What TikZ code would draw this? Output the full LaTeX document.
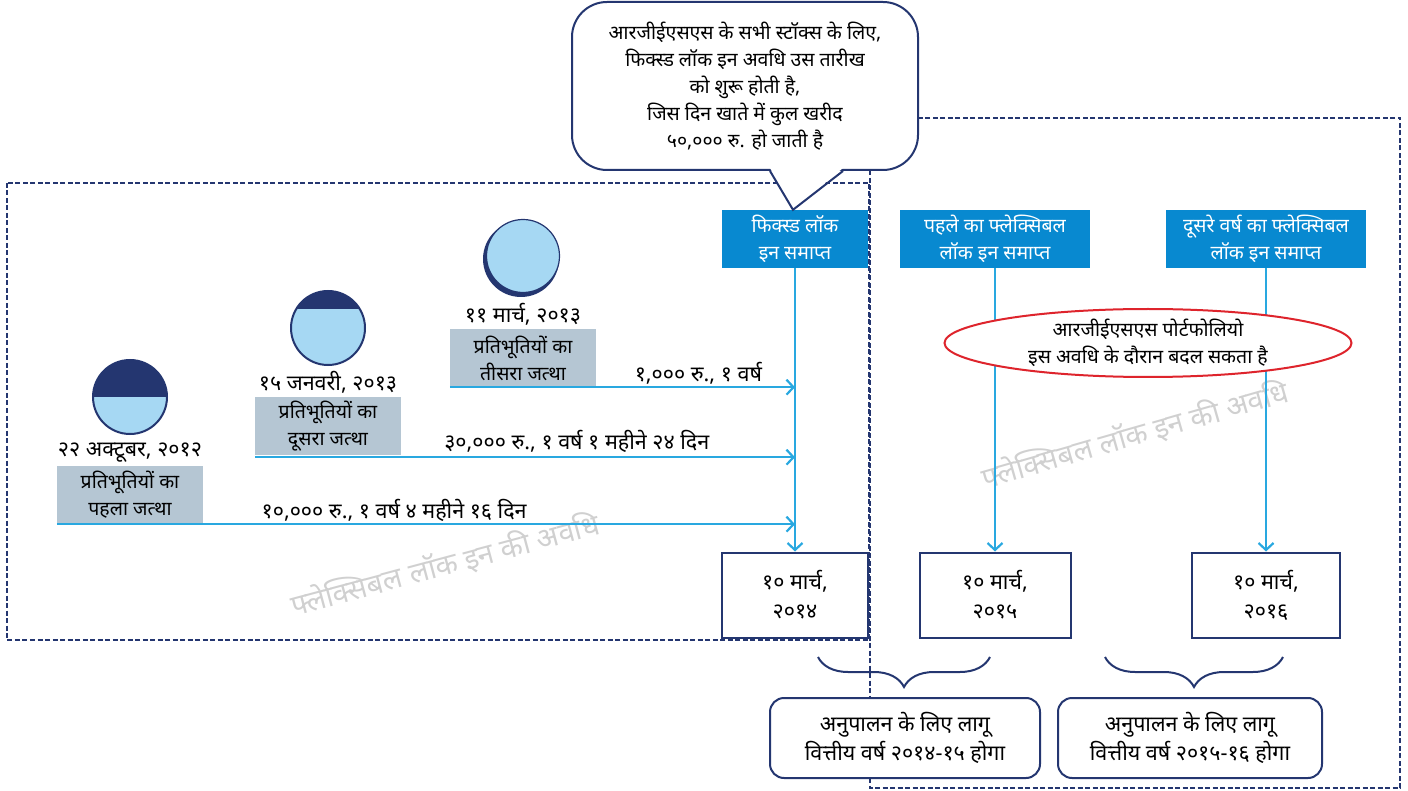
\documentclass[tikz,border=0pt]{standalone}
\usepackage{fontspec}
\setmainfont[Script=Devanagari]{Noto Sans}
\usetikzlibrary{positioning,arrows.meta,shapes.geometric,decorations.pathreplacing}
\definecolor{navy}{RGB}{36,54,112}
\definecolor{skyline}{RGB}{41,168,224}
\definecolor{boxblue}{RGB}{8,137,208}
\definecolor{paleblue}{RGB}{166,216,243}
\definecolor{slate}{RGB}{181,198,211}
\definecolor{alertred}{RGB}{222,36,44}
\definecolor{wmgray}{RGB}{208,208,208}
\tikzset{
  endbox/.style={fill=boxblue, text=white, minimum width=146pt, minimum height=58pt, align=center, inner sep=1pt},
  datebox/.style={draw=navy, line width=2pt, fill=white, minimum width=146pt, minimum height=85pt, align=center, font=\bigtext},
  lotbox/.style={fill=slate, minimum width=146pt, minimum height=58pt, align=center, inner sep=1pt},
  fybox/.style={draw=navy, line width=2pt, rounded corners=14pt, fill=white, minimum height=80pt, align=center, font=\bigtext},
  flow/.style={draw=skyline, line width=2.2pt, -{Straight Barb[length=7pt,width=15pt]}},
  frame/.style={draw=navy, line width=1.6pt, dash pattern=on 5pt off 2.5pt},
  coin/.style={circle, draw=navy, line width=2pt, fill=paleblue, minimum size=74pt, inner sep=0pt},
  watermark/.style={text=wmgray, font=\fontsize{29}{34}\selectfont},
  curly/.style={draw=navy, line width=2pt, decorate, decoration={brace, mirror, amplitude=30pt}}
}
\newcommand\bigtext{\fontsize{21.5}{29}\selectfont}
\begin{document}
\begin{tikzpicture}[x=1pt,y=-1pt,font=\fontsize{19.5}{27}\selectfont]
  \useasboundingbox (0,0) rectangle (1408,791);
  \draw[frame] (7,183) rectangle (869,640);
  \draw[frame] (870,118) rectangle (1400,788);
  \node[watermark, rotate=15] (wm1) at (445,565) {फ्लेक्सिबल लॉक इन की अवधि};
  \node[watermark, rotate=16] (wm2) at (1135,435) {फ्लेक्सिबल लॉक इन की अवधि};

  \node[endbox] (fixA) at (795,239) {फिक्स्ड लॉक\\इन समाप्त};
  \node[endbox, minimum width=190pt] (flexA) at (995,239) {पहले का फ्लेक्सिबल\\लॉक इन समाप्त};
  \node[endbox, minimum width=200pt] (flexB) at (1266,239) {दूसरे वर्ष का फ्लेक्सिबल\\लॉक इन समाप्त};

  \node[draw=navy, line width=2pt, rounded corners=35pt, fill=white, minimum width=346pt, minimum height=168pt, align=center] (note) at (745,86)
    {आरजीईएसएस के सभी स्टॉक्स के लिए,\\फिक्स्ड लॉक इन अवधि उस तारीख\\को शुरू होती है,\\जिस दिन खाते में कुल खरीद\\५०,००० रु. हो जाती है};
  \fill[white] ([xshift=25pt,yshift=3pt]note.south) -- ([xshift=-2pt]fixA.north) -- ([xshift=98pt,yshift=3pt]note.south) -- cycle;
  \draw[navy, line width=2pt] ([xshift=25pt]note.south) -- ([xshift=-2pt]fixA.north) -- ([xshift=98pt]note.south);

  \node[datebox] (end1) at (795,595) {१० मार्च,\\२०१४};
  \node[datebox, minimum width=151pt] (end2) at (995,595) {१० मार्च,\\२०१५};
  \node[datebox, minimum width=148pt] (end3) at (1266,595) {१० मार्च,\\२०१६};
  \draw[flow] (fixA.south) -- (end1.north);
  \draw[flow] (flexA.south) -- (end2.north);
  \draw[flow] (flexB.south) -- (end3.north);

  \node[ellipse, draw=alertred, line width=2pt, fill=white, minimum width=407pt, minimum height=68pt, inner sep=0pt, align=center] (swap) at (1148,343)
    {आरजीईएसएस पोर्टफोलियो\\इस अवधि के दौरान बदल सकता है};

  \node[lotbox] (lot1) at (130,495) {प्रतिभूतियों का\\पहला जत्था};
  \node[lotbox] (lot2) at (328,426) {प्रतिभूतियों का\\दूसरा जत्था};
  \node[lotbox] (lot3) at (523,358) {प्रतिभूतियों का\\तीसरा जत्था};
  \node[above=0pt of lot1, font=\bigtext] (when1) {२२ अक्टूबर, २०१२};
  \node[above=0pt of lot2, font=\bigtext] (when2) {१५ जनवरी, २०१३};
  \node[above=0pt of lot3, font=\bigtext] (when3) {११ मार्च, २०१३};

  \node[coin] (c1) at (130,397) {};
  \begin{scope}
    \clip (c1.center) circle[radius=37];
    \fill[navy] ([xshift=-40pt,yshift=40pt]c1.center) rectangle ([xshift=40pt]c1.center);
  \end{scope}
  \node[coin] (c2) at (328,328) {};
  \begin{scope}
    \clip (c2.center) circle[radius=37];
    \fill[navy] ([xshift=-40pt,yshift=40pt]c2.center) rectangle ([xshift=40pt,yshift=19pt]c2.center);
  \end{scope}
  \fill[navy] (521,259) circle[radius=38];
  \node[coin, line width=1.2pt, minimum size=73pt] (c3) at (523,256) {};

  \draw[flow] (lot1.south west) -- node[pos=0.457, above=-2pt, font=\bigtext] (amt1) {१०,००० रु., १ वर्ष ४ महीने १६ दिन} (lot1.south west -| fixA);
  \draw[flow] ([yshift=-2pt]lot2.south west) -- node[pos=0.596, above=0pt, font=\bigtext] (amt2) {३०,००० रु., १ वर्ष १ महीने २४ दिन} ([yshift=-2pt]lot2.south west -| fixA);
  \draw[flow] (lot3.south west) -- node[pos=0.72, above=-2pt, font=\bigtext] (amt3) {१,००० रु., १ वर्ष} (lot3.south west -| fixA);

  \node[fybox, minimum width=270pt] (fy1) at (905,738) {अनुपालन के लिए लागू\\वित्तीय वर्ष २०१४-१५ होगा};
  \node[fybox, minimum width=264pt] (fy2) at (1190,738) {अनुपालन के लिए लागू\\वित्तीय वर्ष २०१५-१६ होगा};
  \draw[curly] ([xshift=-87pt,yshift=40pt]fy1.north) -- ([xshift=85pt,yshift=40pt]fy1.north);
  \draw[curly] ([xshift=-85pt,yshift=40pt]fy2.north) -- ([xshift=93pt,yshift=40pt]fy2.north);
\end{tikzpicture}
\end{document}
